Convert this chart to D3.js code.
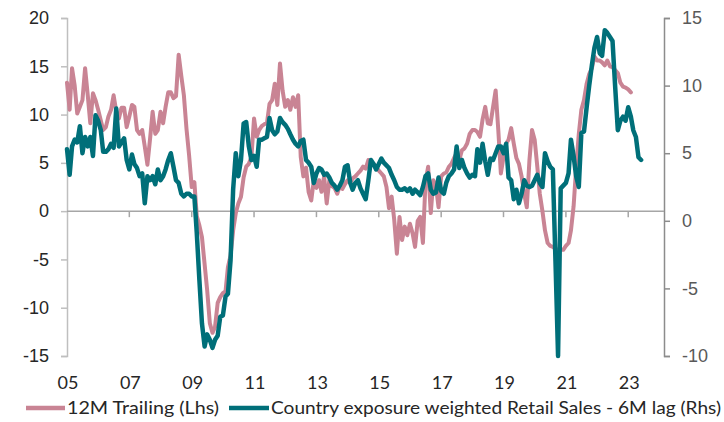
<!DOCTYPE html>
<html>
<head>
<meta charset="utf-8">
<script src="https://cdn.jsdelivr.net/npm/d3@7"></script>
<style>
  html, body { margin: 0; padding: 0; background: #fff; }
  svg { display: block; font-family: Lato, "Open Sans", sans-serif; }
</style>
</head>
<body>
<svg id="chart" width="724" height="422"></svg>
<script>
// Monthly series, first value = January 2005
const startMonth = new Date(2005, 0, 1);

// 12M trailing (left axis, %)
const trailing12M = [
  13.3,10.5,14.8,13.0,10.1,10.8,11.5,14.8,12.0,9.1,
  12.2,11.5,10.5,9.4,8.4,8.7,9.8,10.5,12.0,10.3,
  9.6,10.7,10.7,8.7,9.8,11.0,10.8,8.4,8.0,8.4,
  6.7,4.8,7.5,10.3,8.0,8.4,10.3,9.1,10.8,12.3,
  12.3,11.7,11.9,16.2,14.0,12.0,8.5,5.8,2.5,3.0,
  -0.5,-1.5,-2.7,-5.5,-8.2,-11.6,-12.6,-12.0,-9.5,-8.9,
  -8.5,-8.3,-5.8,-4.6,-2.0,-0.2,0.8,1.5,3.5,4.6,
  4.9,5.6,9.6,7.7,8.4,8.8,9.0,9.1,11.1,11.5,
  13.2,11.0,15.3,12.5,10.8,11.5,10.5,11.8,10.8,12.0,
  5.6,3.6,4.5,2.0,1.1,3.2,2.4,3.2,2.0,3.6,
  0.8,3.2,2.6,2.4,1.8,2.6,2.3,2.8,3.2,2.9,
  3.4,3.6,3.9,4.2,4.6,4.4,5.3,5.0,4.9,4.6,
  4.2,3.9,3.6,2.5,0.3,1.5,-0.9,-4.4,-0.6,-3.0,
  -1.6,-2.5,-1.3,-2.3,-3.7,-1.0,-0.6,-3.3,3.0,4.6,
  -0.2,3.2,2.6,0.4,3.6,3.9,4.0,4.6,4.9,5.5,
  6.0,5.3,6.3,6.5,7.0,8.0,8.4,8.4,8.2,7.7,
  9.5,10.8,9.1,9.0,10.8,12.5,8.4,3.9,5.6,7.0,
  7.4,8.6,7.0,5.5,4.9,3.6,1.8,0.4,5.3,8.4,
  7.4,4.6,1.8,0.0,-2.0,-3.3,-3.6,-3.7,-3.9,-4.0,
  -4.0,-4.0,-3.6,-3.3,-2.0,0.5,4.5,8.0,10.5,11.5,
  13.2,14.2,14.8,16.0,15.6,15.6,15.4,15.1,15.6,15.0,
  14.9,14.6,14.3,13.3,12.9,12.8,12.6,12.3
];

// Country exposure weighted retail sales, 6M lag (right axis, %)
const retailSales6MLag = [
  5.3,3.4,5.5,6.0,5.8,7.0,5.0,6.2,5.5,6.2,
  4.8,7.8,7.4,6.7,5.1,5.1,5.3,5.7,5.4,8.3,
  5.5,5.8,6.1,4.5,3.8,4.9,4.2,3.9,3.3,3.5,
  1.3,3.3,3.0,3.3,2.7,3.8,3.0,3.3,3.8,4.5,
  5.0,4.0,3.0,2.8,2.0,1.8,2.0,2.0,1.8,1.8,
  -0.9,-4.4,-7.6,-9.3,-8.4,-8.8,-9.4,-8.8,-8.5,-7.1,
  -7.0,-5.6,-5.4,-2.9,2.3,5.0,3.3,4.5,7.2,7.3,
  5.5,4.5,4.8,4.0,6.0,6.0,6.1,6.2,7.6,6.7,
  6.4,6.6,7.6,7.3,7.1,6.8,6.4,6.0,5.7,5.5,
  5.9,6.0,4.5,4.3,4.0,2.8,3.5,3.9,3.8,3.4,
  3.5,3.2,2.8,2.6,2.3,2.6,3.0,4.0,4.1,2.8,
  2.3,2.8,3.0,2.4,2.0,1.6,3.0,4.5,4.2,3.8,
  4.2,4.6,4.3,4.1,3.9,3.4,3.0,2.5,2.3,2.3,
  2.4,2.2,2.4,2.0,2.3,2.1,1.9,2.5,3.3,3.5,
  2.3,2.0,2.1,3.2,2.2,2.0,2.8,3.3,3.5,3.8,
  5.5,3.9,4.5,3.9,3.5,3.2,3.4,3.3,5.3,4.3,
  5.7,4.4,3.4,4.6,4.5,5.0,5.5,5.5,5.0,5.7,
  3.2,3.0,1.6,2.3,1.3,2.0,3.0,2.6,2.5,2.6,
  3.0,3.4,2.8,2.5,5.0,4.4,4.0,3.8,-3.0,-10.0,
  2.4,2.6,2.8,3.5,6.0,4.8,3.3,2.5,6.5,6.6,
  8.4,10.0,11.5,12.8,13.6,12.4,12.2,14.1,13.9,13.6,
  13.3,9.9,6.7,7.4,7.7,7.4,8.4,7.7,6.7,6.2,4.7,4.5
];

const leftTicks = [-15, -10, -5, 0, 5, 10, 15, 20];
const rightTicks = [-10, -5, 0, 5, 10, 15];
const xTickYears = [2005, 2007, 2009, 2011, 2013, 2015, 2017, 2019, 2021, 2023];
const xTickLabels = ["05", "07", "09", "11", "13", "15", "17", "19", "21", "23"];
const seriesNames = ["12M Trailing (Lhs)", "Country exposure weighted Retail Sales - 6M lag (Rhs)"];

const pinkColor = "#C98494";
const tealColor = "#006F79";

const svg = d3.select("#chart");

const x = d3.scaleTime()
  .domain([new Date(2005, 0, 1), new Date(2024, 1, 24)])
  .range([67, 664]);
const yL = d3.scaleLinear().domain([-15, 20]).range([356, 18]);
const yR = d3.scaleLinear().domain([-10, 15]).range([356, 18]);

const toPoints = arr => arr.map((v, i) => ({ date: d3.timeMonth.offset(startMonth, i), value: v }));

// Left axis
const leftAxis = svg.append("g")
  .attr("transform", "translate(67,0)")
  .call(d3.axisLeft(yL).tickValues(leftTicks).tickSize(6).tickPadding(12).tickFormat(d3.format("d")));
leftAxis.select(".domain").attr("stroke", "#BFBFBF").attr("stroke-width", 1.5);
leftAxis.selectAll(".tick line").attr("stroke", "#BFBFBF").attr("stroke-width", 1.5);
leftAxis.selectAll(".tick text")
  .attr("fill", "#262626").attr("font-size", 18)
  .text(d => d < 0 ? "-" + Math.abs(d) : d);

// Right axis
const rightAxis = svg.append("g")
  .attr("transform", "translate(664,0)")
  .call(d3.axisRight(yR).tickValues(rightTicks).tickSize(6).tickPadding(12));
rightAxis.select(".domain").attr("stroke", "#8C8C8C").attr("stroke-width", 1.5);
rightAxis.selectAll(".tick line").attr("stroke", "#8C8C8C").attr("stroke-width", 1.5);
rightAxis.selectAll(".tick text")
  .attr("fill", "#595959").attr("font-size", 18)
  .text(d => d < 0 ? "-" + Math.abs(d) : d);

// Horizontal category axis along the left zero line
const xAxis = svg.append("g").attr("transform", `translate(0,${yL(0)})`);
xAxis.append("line")
  .attr("x1", x.range()[0]).attr("x2", x.range()[1])
  .attr("stroke", "#A6A6A6").attr("stroke-width", 1.5);
xAxis.selectAll("line.tick")
  .data(xTickYears.slice(1))
  .join("line")
  .attr("class", "tick")
  .attr("x1", d => x(new Date(d, 0, 1))).attr("x2", d => x(new Date(d, 0, 1)))
  .attr("y1", 0).attr("y2", 6)
  .attr("stroke", "#A6A6A6").attr("stroke-width", 1.5);

svg.append("g").selectAll("text")
  .data(xTickYears)
  .join("text")
  .attr("x", d => x(new Date(d, 0, 1)) + 1)
  .attr("y", 389)
  .attr("text-anchor", "middle")
  .attr("font-size", 18)
  .attr("fill", "#262626")
  .text((d, i) => xTickLabels[i]);

// Lines
const lineL = d3.line().x(d => x(d.date)).y(d => yL(d.value));
const lineR = d3.line().x(d => x(d.date)).y(d => yR(d.value));

svg.append("path")
  .datum(toPoints(trailing12M))
  .attr("d", lineL)
  .attr("fill", "none")
  .attr("stroke", pinkColor)
  .attr("stroke-width", 4)
  .attr("stroke-linejoin", "round")
  .attr("stroke-linecap", "round");

svg.append("path")
  .datum(toPoints(retailSales6MLag))
  .attr("d", lineR)
  .attr("fill", "none")
  .attr("stroke", tealColor)
  .attr("stroke-width", 4.5)
  .attr("stroke-linejoin", "round")
  .attr("stroke-linecap", "round");

// Legend
const legend = svg.append("g");
const legendItems = [
  { name: seriesNames[0], color: pinkColor, x1: 26, x2: 65, tx: 67, tw: 152 },
  { name: seriesNames[1], color: tealColor, x1: 229, x2: 269, tx: 271, tw: 450 }
];
legendItems.forEach(it => {
  legend.append("line")
    .attr("x1", it.x1).attr("x2", it.x2)
    .attr("y1", 408).attr("y2", 408)
    .attr("stroke", it.color).attr("stroke-width", 4.5);
  legend.append("text")
    .attr("x", it.tx).attr("y", 414)
    .attr("font-size", 18)
    .attr("fill", "#262626")
    .attr("textLength", it.tw)
    .attr("lengthAdjust", "spacingAndGlyphs")
    .text(it.name);
});
</script>
</body>
</html>
